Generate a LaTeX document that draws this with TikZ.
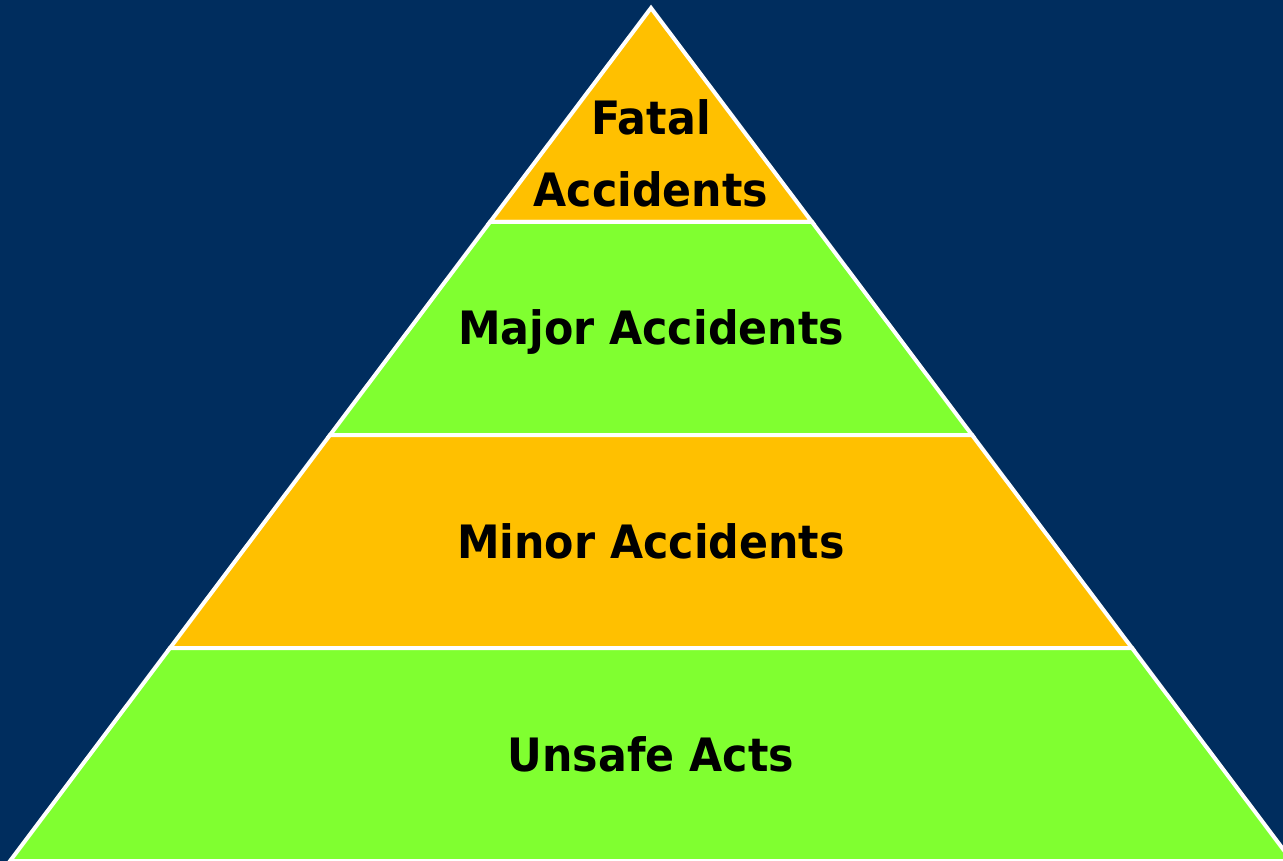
\documentclass[tikz,border=0pt]{standalone}
\usepackage{fontspec}
\setmainfont{DejaVu Sans}
\definecolor{navy}{HTML}{002D5E}
\definecolor{amber}{HTML}{FFC000}
\definecolor{lime}{HTML}{80FF30}
\tikzset{
  layer/.style={draw=white, line width=4pt, line join=miter},
  lbl/.style={font=\fontsize{46}{72}\selectfont\bfseries, text=black, align=center, inner sep=0pt, anchor=base}
}
\newcommand{\sq}[1]{\scalebox{0.93}[1]{#1}}
\begin{document}
\begin{tikzpicture}[x=1pt,y=-1pt]
\fill[navy] (0,0) rectangle (1283,861);
\useasboundingbox (0,0) rectangle (1283,861);
\coordinate (apex) at (651,8);
\coordinate (l1) at (490,222); \coordinate (r1) at (812,222);
\coordinate (l2) at (330,435); \coordinate (r2) at (972,435);
\coordinate (l3) at (170,648); \coordinate (r3) at (1132,648);
\coordinate (l4) at (10,861);  \coordinate (r4) at (1292,861);
\filldraw[layer, fill=amber] (apex) -- (r1) -- (l1) -- cycle;
\filldraw[layer, fill=lime] (l1) -- (r1) -- (r2) -- (l2) -- cycle;
\filldraw[layer, fill=amber] (l2) -- (r2) -- (r3) -- (l3) -- cycle;
\filldraw[layer, fill=lime] (l3) -- (r3) -- (r4) -- (l4) -- cycle;
\node[lbl] (fatal) at (651,207) {\sq{Fatal}\\\sq{Accidents}};
\node[lbl] (major) at (651,344) {\sq{Major Accidents}};
\node[lbl] (minor) at (651,558) {\sq{Minor Accidents}};
\node[lbl] (unsafe) at (651,771) {\sq{Unsafe Acts}};
\end{tikzpicture}
\end{document}
